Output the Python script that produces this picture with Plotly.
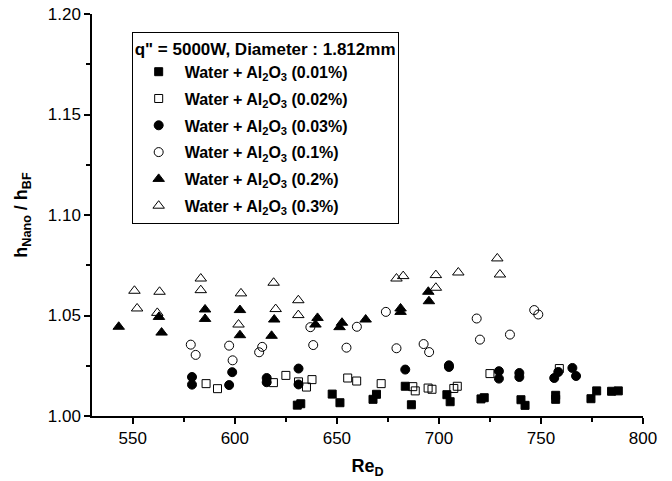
import plotly.graph_objects as go

# ---- data ----
labels = ["0.01%", "0.02%", "0.03%", "0.1%", "0.2%", "0.3%"]

x_001 = [630.6, 632.3, 647.7, 651.5, 667.7, 669.4, 683.5, 686.5, 703.9, 705.5,
         720.6, 722.2, 740.2, 742.2, 757.2, 757.2, 774.5, 777.3, 784.6, 787.9]
y_001 = [1.0054, 1.0061, 1.0109, 1.0066, 1.0083, 1.0108, 1.0148, 1.0056, 1.0106, 1.0071,
         1.0085, 1.0091, 1.0081, 1.0053, 1.0103, 1.0083, 1.0086, 1.0125, 1.0123, 1.0125]

x_002 = [585.9, 591.5, 618.9, 625.0, 631.2, 635.1, 637.8, 655.3, 659.7, 671.7,
         687.2, 688.4, 694.7, 696.6, 707.3, 709.0, 725.0, 759.0]
y_002 = [1.0161, 1.0136, 1.0166, 1.0202, 1.0170, 1.0144, 1.0181, 1.0189, 1.0174, 1.0161,
         1.0146, 1.0125, 1.0139, 1.0133, 1.0137, 1.0148, 1.0211, 1.0236]

x_003 = [579.0, 579.0, 597.2, 598.7, 615.6, 615.6, 631.2, 631.2, 683.5, 704.9,
         704.9, 729.4, 729.4, 739.4, 739.4, 756.5, 758.5, 765.4, 767.2]
y_003 = [1.0194, 1.0156, 1.0154, 1.0218, 1.0189, 1.0168, 1.0236, 1.0157, 1.0231, 1.0252,
         1.0244, 1.0223, 1.0186, 1.0214, 1.0194, 1.0189, 1.0219, 1.0239, 1.0199]

x_01 = [578.4, 580.8, 597.2, 598.9, 611.9, 613.4, 637.0, 638.4, 654.7, 659.8,
        674.0, 679.2, 692.5, 695.2, 718.5, 720.1, 734.8, 746.7, 748.7]
y_01 = [1.0355, 1.0304, 1.0350, 1.0277, 1.0317, 1.0344, 1.0442, 1.0353, 1.0340, 1.0444,
        1.0518, 1.0337, 1.0358, 1.0318, 1.0485, 1.0380, 1.0405, 1.0527, 1.0505]

x_02 = [543.1, 562.8, 564.1, 585.4, 585.4, 602.5, 602.5, 619.3, 618.0, 640.5,
        639.5, 652.5, 651.3, 664.1, 681.2, 681.2, 694.8, 695.1]
y_02 = [1.0444, 1.0493, 1.0415, 1.0530, 1.0483, 1.0527, 1.0402, 1.0480, 1.0399, 1.0488,
        1.0455, 1.0464, 1.0442, 1.0480, 1.0535, 1.0518, 1.0618, 1.0571]

x_03 = [550.8, 552.1, 563.1, 562.0, 583.3, 583.3, 603.0, 601.8, 619.0, 620.0,
        631.1, 631.1, 679.2, 682.5, 698.5, 698.5, 709.5, 728.6, 729.9]
y_03 = [1.0623, 1.0535, 1.0618, 1.0513, 1.0684, 1.0626, 1.0610, 1.0455, 1.0663, 1.0532,
        1.0576, 1.0502, 1.0684, 1.0696, 1.0701, 1.0638, 1.0714, 1.0784, 1.0704]

series_x = [x_001, x_002, x_003, x_01, x_02, x_03]
series_y = [y_001, y_002, y_003, y_01, y_02, y_03]
symbols = ["square", "square-open", "circle", "circle-open", "triangle-up", "triangle-up-open"]
sizes = [8, 8, 9, 9, 10, 10]

FONT = "Arial, Liberation Sans, Helvetica, sans-serif"

fig = go.Figure()
for i, (lab, xs, ys, sym, sz) in enumerate(zip(labels, series_x, series_y, symbols, sizes)):
    fig.add_trace(go.Scatter(
        x=xs, y=ys, mode="markers",
        name="<b>Water + Al<sub>2</sub>O<sub>3</sub> (" + lab + ")</b>",
        legendgroup="g%d" % i,
        marker=dict(symbol=sym, size=sz, color="black",
                    line=dict(color="black", width=1)),
    ))

fig.update_layout(
    width=672, height=481,
    margin=dict(l=92, r=29, t=14, b=65),
    paper_bgcolor="white", plot_bgcolor="white",
    font=dict(family=FONT, color="black", size=17),
    showlegend=True,
    legend=dict(
        x=0.072, y=0.956, xanchor="left", yanchor="top",
        bordercolor="black", borderwidth=1, bgcolor="white",
        font=dict(family=FONT, size=16, color="black"),
        title=dict(text="<b>q\" = 5000W, Diameter : 1.812mm</b>",
                   font=dict(family=FONT, size=17, color="black")),
        tracegroupgap=3,
        itemwidth=42,
    ),
)

fig.update_xaxes(
    range=[530, 800], tickvals=[550, 600, 650, 700, 750, 800],
    showgrid=False, zeroline=False, automargin=False,
    showline=True, linecolor="black", linewidth=1.5,
    ticks="outside", ticklen=6, tickwidth=1.5, tickcolor="black",
    tickfont=dict(size=17),
    minor=dict(tickvals=[575, 625, 675, 725, 775], ticks="outside", ticklen=4,
               tickwidth=1.5, tickcolor="black", showgrid=False),
    title=dict(text="<b>Re<sub>D</sub></b>", font=dict(size=18), standoff=12),
)
fig.update_yaxes(
    range=[1.0, 1.2], tickvals=[1.00, 1.05, 1.10, 1.15, 1.20], tickformat=".2f",
    showgrid=False, zeroline=False, automargin=False,
    showline=True, linecolor="black", linewidth=1.5,
    ticks="outside", ticklen=6, tickwidth=1.5, tickcolor="black",
    tickfont=dict(size=17),
    minor=dict(tickvals=[1.025, 1.075, 1.125, 1.175], ticks="outside", ticklen=4,
               tickwidth=1.5, tickcolor="black", showgrid=False),
    title=dict(text="<b>h<sub>Nano</sub> / h<sub>BF</sub></b>", font=dict(size=18), standoff=15),
)

fig.write_html("out.html")
